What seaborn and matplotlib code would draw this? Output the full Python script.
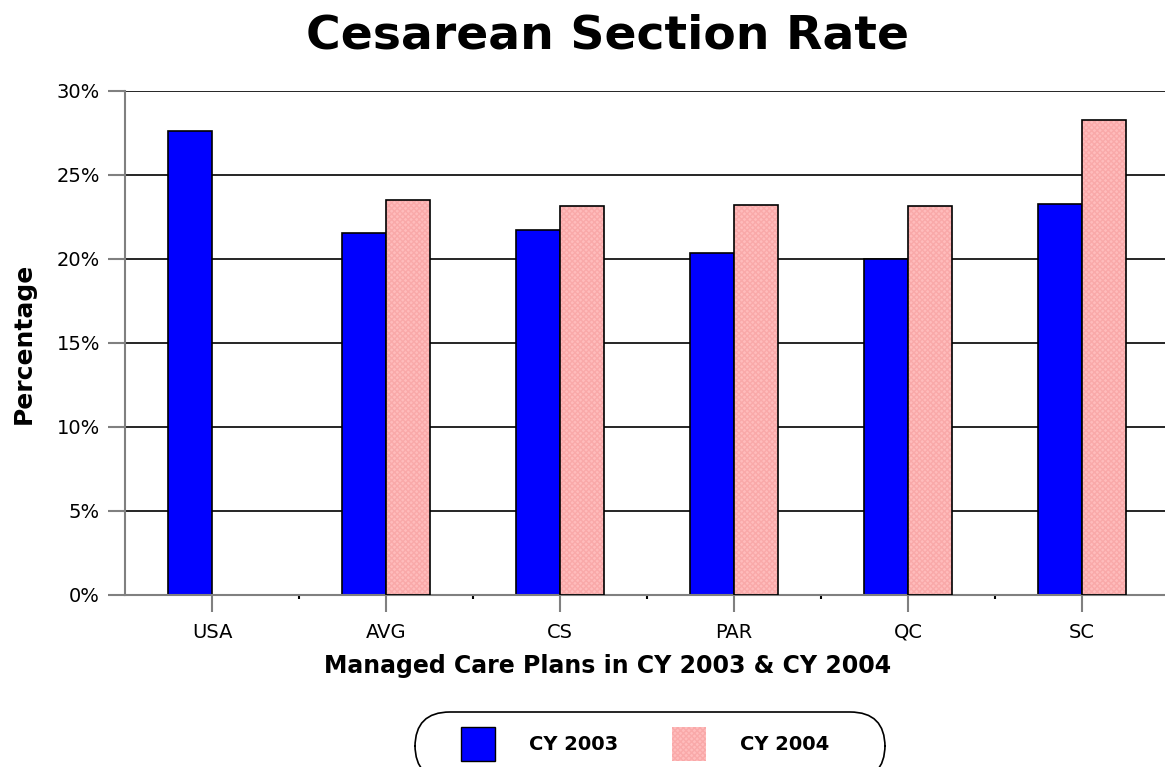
import numpy as np
import pandas as pd
import seaborn as sns
from matplotlib import pyplot as plt
from matplotlib.patches import Rectangle, FancyBboxPatch
from matplotlib.ticker import PercentFormatter

plans = ['USA', 'AVG', 'CS', 'PAR', 'QC', 'SC']
cy2003 = [27.6, 21.55, 21.7, 20.35, 20.0, 23.3]
cy2004 = [np.nan, 23.5, 23.15, 23.2, 23.15, 28.3]
years = ['CY 2003', 'CY 2004']

df = pd.DataFrame({
    'plan': plans * 2,
    'year': [years[0]] * len(plans) + [years[1]] * len(plans),
    'rate': cy2003 + cy2004,
})

sns.set_style('white')
plt.rcParams['font.family'] = ['DejaVu Sans']
for k in ['text.color', 'axes.labelcolor', 'xtick.labelcolor', 'ytick.labelcolor']:
    plt.rcParams[k] = 'black'

fig = plt.figure(figsize=(11.65, 7.67), dpi=100)
ax = fig.add_axes([125 / 1165, 172 / 767, 1044 / 1165, 504 / 767])

pal = {'CY 2003': '#0000ff', 'CY 2004': '#ffbcbc'}
sns.barplot(data=df, x='plan', y='rate', hue='year', palette=pal, ax=ax,
            width=0.506, gap=0, edgecolor='black', linewidth=1.2,
            saturation=1, legend=False)

# fine texture on the 2004 bars, outline drawn on top
for p in ax.patches:
    if p.get_facecolor()[0] > 0.9 and p.get_height() > 0:
        p.set_hatch('xxxxxx')
        p.set_edgecolor('#f9a9a9')
        p.set_linewidth(0)
        ax.add_patch(Rectangle(p.get_xy(), p.get_width(), p.get_height(),
                               fill=False, edgecolor='black', lw=1.2, zorder=3))

ax.set_xlim(-0.5, len(plans) - 0.5)
ax.set_ylim(0, 30)
ax.set_yticks(np.arange(0, 31, 5))
ax.yaxis.set_major_formatter(PercentFormatter(decimals=0))
ax.set_xticks(np.arange(0.5, len(plans) - 0.5), minor=True)
ax.grid(axis='y', color='black', lw=1.2)
ax.set_axisbelow(True)
for s in ['top', 'right']:
    ax.spines[s].set_visible(False)
for s in ['left', 'bottom']:
    ax.spines[s].set_color('#808080')
    ax.spines[s].set_linewidth(1.5)
ax.tick_params(axis='both', which='major', labelsize=14, color='#808080',
               width=1.5, length=12, direction='out', left=True, bottom=True)
ax.tick_params(axis='y', pad=6)
ax.tick_params(axis='x', pad=8)
ax.tick_params(axis='x', which='minor', length=3, width=1.5, color='black', bottom=True)
ax.set_xlabel('')
ax.set_ylabel('')

fig.text(607 / 1165, 1 - 36 / 767, 'Cesarean Section Rate', ha='center', va='center',
         fontsize=34, fontweight='bold')
fig.text(608 / 1165, 1 - 666 / 767, 'Managed Care Plans in CY 2003 & CY 2004',
         ha='center', va='center', fontsize=17, fontweight='bold')
fig.text(24 / 1165, 1 - 343 / 767, 'Percentage', ha='center', va='center',
         rotation=90, fontsize=18, fontweight='bold')

fig.patches.append(FancyBboxPatch((415 / 1165, 1 - 780 / 767), 470 / 1165, 68 / 767,
                                  boxstyle='round,pad=0,rounding_size=0.03',
                                  transform=fig.transFigure, facecolor='white',
                                  edgecolor='black', lw=1.2,
                                  mutation_aspect=1165 / 767))

handles = [Rectangle((0, 0), 1, 1, facecolor=pal['CY 2003'], edgecolor='black', lw=1),
           Rectangle((0, 0), 1, 1, facecolor=pal['CY 2004'], edgecolor='#f9a9a9',
                     hatch='xxxxxx', lw=0)]
leg = fig.legend(handles, years, loc='center', bbox_to_anchor=(645 / 1165, 1 - 744 / 767),
                 ncol=2, prop={'weight': 'bold', 'size': 14},
                 handlelength=1.75, handleheight=2.3, handletextpad=1.75,
                 columnspacing=2.75, borderpad=0, frameon=False)

fig.savefig('out.png', dpi=100)
